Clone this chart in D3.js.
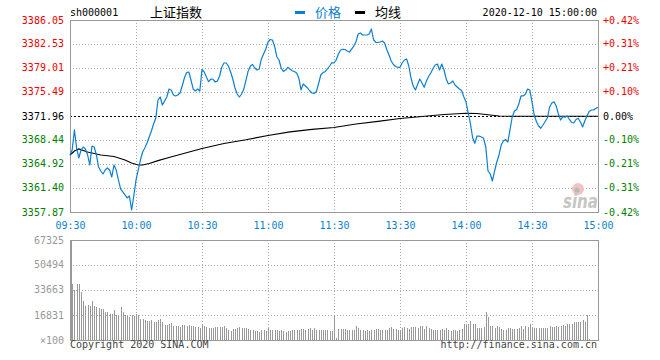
<!DOCTYPE html>
<html><head><meta charset="utf-8">
<script src="https://cdn.jsdelivr.net/npm/d3@7"></script>
<style>
html,body{margin:0;padding:0;background:#fff;}
svg{display:block;}
text{font-family:"DejaVu Sans Mono","Liberation Mono",monospace;font-size:10px;}
</style></head><body>
<svg id="c" width="660" height="360"></svg>
<script>
// ---------- data ----------
const symbol = "sh000001";
const title = "上证指数";
const legendNames = ["价格", "均线"];
const dateTime = "2020-12-10 15:00:00";
const prevClose = 3371.96;
const priceTicks = [3386.05, 3382.53, 3379.01, 3375.49, 3371.96, 3368.44, 3364.92, 3361.40, 3357.87];
const pctTicks = ["+0.42%", "+0.31%", "+0.21%", "+0.10%", "0.00%", "-0.10%", "-0.21%", "-0.31%", "-0.42%"];
const timeTicks = ["09:30", "10:00", "10:30", "11:00", "11:30", "13:30", "14:00", "14:30", "15:00"];
const timeTickIdx = [0, 30, 60, 90, 120, 150, 180, 210, 240];
const volTicks = [67325, 50494, 33663, 16831];
const volUnit = "×100";

// price per minute (index 0 = 09:30, 120 = 11:30/13:00, 240 = 15:00)
const priceValues = [
3366.24,3366.97,3369.91,3367.26,3365.80,3366.97,3367.41,3367.12,3366.24,3364.77,
3367.56,3367.41,3366.24,3364.47,3363.89,3363.45,3364.03,3364.33,3364.03,3363.01,
3364.77,3364.03,3362.57,3361.25,3360.81,3360.37,3359.93,3360.22,3358.16,3360.22,
3362.57,3364.03,3365.50,3366.68,3367.26,3368.00,3368.88,3369.76,3370.79,3371.67,
3374.31,3374.75,3373.57,3374.16,3374.75,3375.92,3375.78,3375.04,3374.90,3375.04,
3375.34,3376.36,3377.54,3378.34,3378.42,3377.24,3375.92,3375.63,3375.92,3375.63,
3378.81,3378.42,3377.68,3376.99,3377.39,3377.35,3376.95,3377.10,3377.83,3379.15,
3379.74,3379.74,3379.30,3378.42,3377.39,3376.07,3375.19,3374.75,3375.19,3375.92,
3377.24,3378.57,3379.30,3379.52,3379.01,3378.71,3378.86,3380.33,3381.06,3381.79,
3382.82,3383.19,3383.12,3382.23,3380.66,3380.18,3379.01,3378.49,3378.71,3379.11,
3378.86,3378.61,3378.49,3378.27,3377.54,3375.78,3376.66,3376.36,3376.07,3375.63,
3375.34,3375.26,3375.56,3376.73,3377.98,3378.34,3378.46,3378.86,3379.30,3379.78,
3379.74,
3380.18,3381.06,3381.65,3381.75,3381.72,3381.50,3381.35,3381.79,3382.23,
3382.87,3383.99,3384.14,3383.85,3383.85,3383.85,3383.99,3384.73,3383.12,3382.78,
3382.75,3382.82,3382.97,3382.67,3381.72,3380.91,3380.03,3379.52,3379.23,3379.11,
3379.11,3379.74,3380.18,3380.33,3379.30,3377.54,3376.36,3375.78,3376.58,3377.39,
3376.80,3376.17,3377.10,3377.76,3378.27,3378.93,3379.45,3379.59,3378.71,3379.59,
3378.71,3377.39,3376.66,3376.80,3377.10,3376.51,3376.22,3375.92,3375.70,3374.79,
3374.02,3372.40,3370.86,3368.80,3367.95,3369.02,3369.02,3368.88,3368.69,3367.41,
3363.89,3363.45,3362.42,3363.89,3365.21,3366.24,3367.70,3368.29,3368.51,3368.14,
3369.91,3371.81,3372.69,3372.91,3373.72,3374.90,3374.90,3375.19,3375.92,3375.78,
3374.02,3372.11,3371.15,3370.49,3370.16,3370.64,3371.15,3371.67,3373.28,3373.87,
3374.06,3373.43,3372.25,3371.37,3371.86,3371.77,3371.96,3371.45,3371.01,3370.93,
3371.45,3371.62,3371.08,3370.35,3371.23,3371.96,3372.62,3372.84,3372.84,3373.06,
3373.24
];

// average-price line, read at sample minutes
const avgIdx = [0,2,4,8,14,20,25,28,31,33,36,40,45,50,60,70,80,90,100,110,120,130,140,150,160,170,180,185,190,195,200,220,240];
const avgValues = [3366.24,3366.82,3367.12,3366.68,3366.24,3366.02,3365.50,3365.06,3364.77,3364.77,3364.99,3365.40,3365.87,3366.31,3367.19,3367.92,3368.47,3369.10,3369.64,3370.01,3370.27,3370.79,3371.18,3371.59,3371.89,3372.18,3372.36,3372.33,3372.14,3371.96,3371.92,3371.92,3371.92];

// volume per minute (×100)
const volumeValues = [
67325,37478,33663,37478,37478,32541,26257,23115,23564,23115,
26257,22891,22217,21769,20871,20871,18627,18627,17280,17280,
19973,16831,16383,22217,18627,16831,16383,15709,16831,16383,
17280,16831,14138,14138,13241,12792,12792,13465,11894,12343,
13241,14138,12343,10099,10099,10548,11445,9650,9426,9426,
8977,10099,10099,9650,10099,9201,9650,8977,8752,7855,
10548,9650,8977,8304,7855,8304,8752,8752,8752,8752,
9650,8304,6508,6059,7406,7406,8304,8752,8304,8304,
7855,7406,6508,6508,6059,6059,5162,6957,6508,6059,
7855,6957,6957,6508,6957,6059,6508,6059,5610,6059,
6059,6508,6508,6957,6957,7406,7406,6957,7406,7855,
6508,8304,6508,6508,6957,6508,6957,6508,6059,6059,
16831,
1122,7181,7181,7181,7181,6508,6508,6508,6508,
9201,7855,6508,6508,6059,6508,6059,6508,6508,7181,
7406,6957,6957,6508,6508,8304,8752,7406,7406,6508,
6508,7855,8752,7855,7406,8752,8752,8752,7855,9426,
9426,7406,9426,7855,7406,6957,6508,6508,6508,7406,
6508,7855,6508,6059,6508,6957,6059,6508,7181,10548,
10099,10997,12792,10997,10997,8304,7855,7855,8752,18627,
15485,9650,9650,8304,9201,8752,7406,6508,6508,7855,
7855,7406,7406,7406,7855,9201,7406,9201,8752,10548,
7855,7855,7855,7855,7855,7855,8304,7855,9201,8752,
8752,9201,8752,9650,10099,9650,10548,10548,10548,12343,
12343,12343,12343,13241,12343,16831,449,0,0,0,
0
];

// ---------- drawing ----------
const svg = d3.select("#c");
const L = 70, R = 598, PT = 20, PB = 212, VT = 240, VB = 340;
const blue = "#0b7fd0", red = "#f00000", green = "#008000", grid = "#aaaaaa", border = "#999999";

const x = d3.scaleLinear().domain([0, 240]).range([L, R]);
const y = d3.scaleLinear().domain([priceTicks[8], priceTicks[0]]).range([PB, PT]);
const yv = d3.scaleLinear().domain([0, volTicks[0]]).range([VB, VT]);
const px = v => Math.round(v) + 0.5;

// grids - price
const gp = svg.append("g").attr("shape-rendering", "crispEdges");
priceTicks.slice(1, 8).forEach(v => {
  if (v === prevClose) return;
  gp.append("line").attr("x1", L).attr("x2", R).attr("y1", px(y(v))).attr("y2", px(y(v)))
    .attr("stroke", grid).attr("stroke-dasharray", "1,2");
});
timeTickIdx.slice(1, 8).forEach(i => {
  gp.append("line").attr("x1", px(x(i))).attr("x2", px(x(i))).attr("y1", PT).attr("y2", PB)
    .attr("stroke", grid).attr("stroke-dasharray", "1,2");
});
// grids - volume
volTicks.slice(1).forEach(v => {
  gp.append("line").attr("x1", L).attr("x2", R).attr("y1", px(yv(v))).attr("y2", px(yv(v)))
    .attr("stroke", grid).attr("stroke-dasharray", "1,2");
});
timeTickIdx.slice(1, 8).forEach(i => {
  gp.append("line").attr("x1", px(x(i))).attr("x2", px(x(i))).attr("y1", VT).attr("y2", VB)
    .attr("stroke", grid).attr("stroke-dasharray", "1,2");
});

// previous close dashed line
gp.append("line").attr("x1", L).attr("x2", R).attr("y1", px(y(prevClose))).attr("y2", px(y(prevClose)))
  .attr("stroke", "#000").attr("stroke-dasharray", "2,2");

// volume bars
svg.append("g").attr("shape-rendering", "crispEdges")
  .selectAll("rect").data(volumeValues).join("rect")
  .attr("x", (d, i) => Math.round(x(i)) + (i === 0 ? 1 : 0))
  .attr("width", 1)
  .attr("y", d => yv(d))
  .attr("height", d => VB - yv(d))
  .attr("fill", "#999");

// borders
svg.append("rect").attr("x", L + 0.5).attr("y", PT + 0.5).attr("width", R - L).attr("height", PB - PT)
  .attr("fill", "none").attr("stroke", border).attr("stroke-width", 1).attr("shape-rendering", "crispEdges");
svg.append("rect").attr("x", L + 0.5).attr("y", VT + 0.5).attr("width", R - L).attr("height", VB - VT)
  .attr("fill", "none").attr("stroke", border).attr("stroke-width", 1).attr("shape-rendering", "crispEdges");

// watermark
const wm = svg.append("g");
wm.append("circle").attr("cx", 578).attr("cy", 189).attr("r", 6).attr("fill", "#f3c2c2");
wm.append("circle").attr("cx", 577).attr("cy", 190).attr("r", 2.6).attr("fill", "#b8b8b8");
wm.append("text").attr("x", 563).attr("y", 208).text("sina")
  .style("font-family", "DejaVu Sans").style("font-size", "19px").style("font-weight", "bold")
  .style("font-style", "italic").attr("fill", "#c6c6c6")
  .attr("textLength", 35).attr("lengthAdjust", "spacingAndGlyphs");

// average line
svg.append("path")
  .datum(avgIdx.map((t, k) => [t, avgValues[k]]))
  .attr("fill", "none").attr("stroke", "#000").attr("stroke-width", 1.2)
  .attr("d", d3.line().x(d => x(d[0])).y(d => y(d[1])));

// price line
svg.append("path")
  .datum(priceValues)
  .attr("fill", "none").attr("stroke", blue).attr("stroke-width", 1.2).attr("stroke-linejoin", "round")
  .attr("d", d3.line().x((d, i) => x(i)).y(d => y(d)));

// left price axis
const axL = d3.axisLeft(y).tickValues(priceTicks).tickSize(0).tickPadding(6).tickFormat(d3.format(".2f"));
const gL = svg.append("g").attr("transform", `translate(${L},0)`).call(axL);
gL.select(".domain").remove();
gL.selectAll("text").attr("font-family", null).attr("font-size", null).attr("dy", "0.3em")
  .attr("fill", d => d > prevClose ? red : d < prevClose ? green : "#000");

// right pct axis
const axR = d3.axisRight(y).tickValues(priceTicks).tickSize(0).tickPadding(5).tickFormat((d, i) => pctTicks[i]);
const gR = svg.append("g").attr("transform", `translate(${R},0)`).call(axR);
gR.select(".domain").remove();
gR.selectAll("text").attr("font-family", null).attr("font-size", null).attr("dy", "0.3em")
  .attr("fill", d => d > prevClose ? red : d < prevClose ? green : "#000");

// time axis
const axB = d3.axisBottom(x).tickValues(timeTickIdx).tickSize(0).tickPadding(10).tickFormat((d, i) => timeTicks[i]);
const gB = svg.append("g").attr("transform", `translate(0,${PB})`).call(axB);
gB.select(".domain").remove();
gB.selectAll("text").attr("font-family", null).attr("font-size", null).attr("fill", blue);

// volume axis
const axV = d3.axisLeft(yv).tickValues(volTicks.concat([0])).tickSize(0).tickPadding(6)
  .tickFormat(d => d === 0 ? volUnit : d);
const gV = svg.append("g").attr("transform", `translate(${L},0)`).call(axV);
gV.select(".domain").remove();
gV.selectAll("text").attr("font-family", null).attr("font-size", null).attr("dy", "0.3em").attr("fill", "#999");

// header
svg.append("text").attr("x", 70).attr("y", 16).text(symbol).attr("fill", "#000");
svg.append("text").attr("x", 150).attr("y", 17).text(title)
  .style("font-family", "'Noto Sans CJK SC'").style("font-size", "13px").attr("fill", "#000");
svg.append("rect").attr("x", 295).attr("y", 11).attr("width", 10).attr("height", 3).attr("fill", blue);
svg.append("text").attr("x", 315).attr("y", 17).text(legendNames[0])
  .style("font-family", "'Noto Sans CJK SC'").style("font-size", "13px").attr("fill", blue);
svg.append("rect").attr("x", 355).attr("y", 11).attr("width", 10).attr("height", 3).attr("fill", "#000");
svg.append("text").attr("x", 375).attr("y", 17).text(legendNames[1])
  .style("font-family", "'Noto Sans CJK SC'").style("font-size", "13px").attr("fill", "#000");
svg.append("text").attr("x", 597).attr("y", 16).attr("text-anchor", "end").text(dateTime).attr("fill", "#000");

// footer
svg.append("text").attr("x", 70).attr("y", 348).text("Copyright 2020 SINA.COM").attr("fill", "#444");
svg.append("text").attr("x", 597).attr("y", 348).attr("text-anchor", "end").text("http://finance.sina.com.cn").attr("fill", "#444");
</script>
</body></html>
